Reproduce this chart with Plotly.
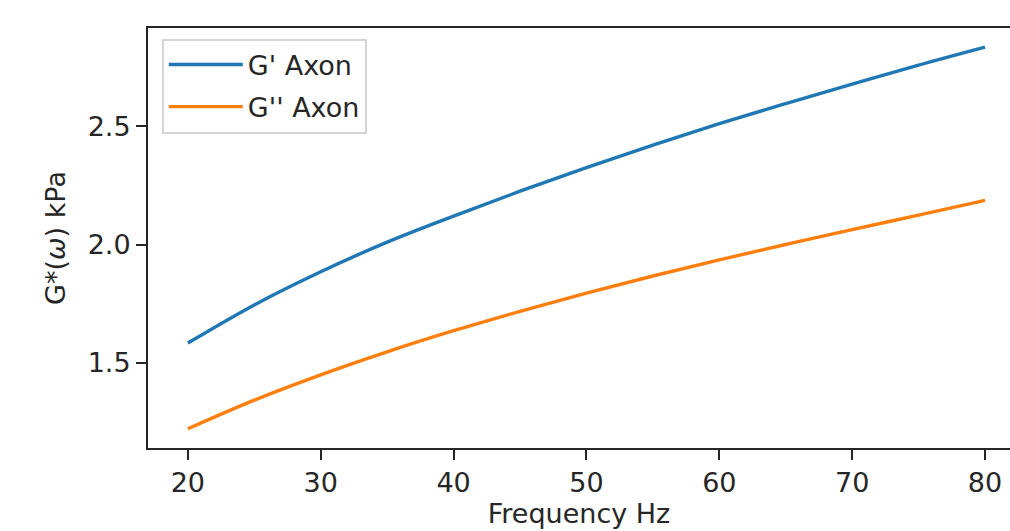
import plotly.graph_objects as go

freq = [20, 25, 30, 35, 40, 45, 50, 55, 60, 65, 70, 75, 80]
g_storage = [1.584, 1.745, 1.885, 2.010, 2.120, 2.225, 2.325, 2.420, 2.510, 2.595, 2.677, 2.757, 2.833]
g_loss = [1.222, 1.343, 1.450, 1.547, 1.636, 1.718, 1.795, 1.867, 1.935, 2.000, 2.063, 2.124, 2.186]
series_names = ["G' Axon", "G'' Axon"]
y_ticks = [1.5, 2.0, 2.5]
x_ticks = [20, 30, 40, 50, 60, 70, 80]

FONT = "DejaVu Sans"
FS = 27
INK = "#262626"
fig = go.Figure()
fig.add_trace(go.Scatter(x=freq, y=g_storage, mode="lines", name=series_names[0],
                         legendgroup="a",
                         line=dict(color="#1f77b4", width=3.4, shape="spline")))
fig.add_trace(go.Scatter(x=freq, y=g_loss, mode="lines", name=series_names[1],
                         legendgroup="b",
                         line=dict(color="#ff7f0e", width=3.4, shape="spline")))

fig.update_layout(
    width=1010, height=531,
    margin=dict(l=148, r=0, t=28, b=83),
    paper_bgcolor="white", plot_bgcolor="white",
    font=dict(family=FONT, size=FS, color=INK),
    showlegend=True,
    legend=dict(x=0.016, y=0.975, xanchor="left", yanchor="top",
                bordercolor="#d4d4d4", borderwidth=2, bgcolor="white",
                font=dict(family=FONT, size=FS, color=INK),
                tracegroupgap=4, itemwidth=74),
    xaxis=dict(range=[17, 81.88], tickvals=x_ticks, showgrid=False, zeroline=False,
               showline=True, mirror=True, linecolor=INK, linewidth=2,
               ticks="outside", ticklen=10, tickwidth=2, tickcolor=INK,
               title=dict(text="Frequency Hz", standoff=6,
                          font=dict(family=FONT, size=FS, color=INK))),
    yaxis=dict(range=[1.141, 2.914], tickvals=y_ticks, tickformat=".1f",
               showgrid=False, zeroline=False,
               showline=True, mirror=False, linecolor=INK, linewidth=2,
               ticks="outside", ticklen=10, tickwidth=2, tickcolor=INK,
               title=dict(text="G*(<i>ω</i>) kPa", standoff=14,
                          font=dict(family=FONT, size=FS, color=INK))),
)

fig.write_html("out.html", config={"displayModeBar": False},
               post_script="document.body.style.margin='0';document.body.style.overflow='hidden';")
